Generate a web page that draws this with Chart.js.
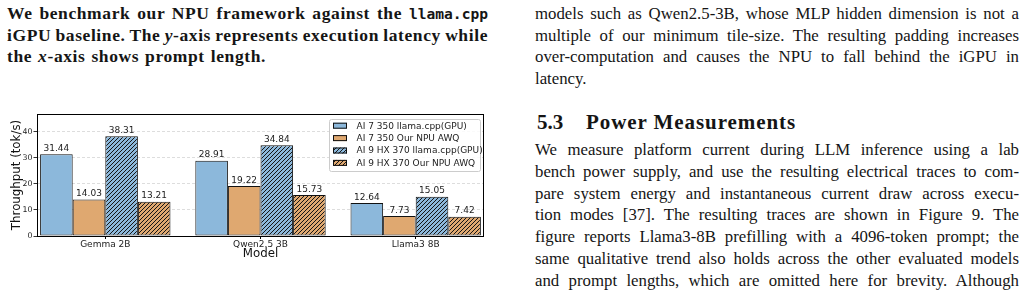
<!DOCTYPE html>
<html>
<head>
<meta charset="utf-8">
<script src="https://cdn.jsdelivr.net/npm/chart.js@4.4.0/dist/chart.umd.min.js"></script>
<style>
  html, body { margin: 0; padding: 0; background: #fff; }
  body { width: 1025px; height: 291px; position: relative; overflow: hidden; }
  .ln { position: absolute; font-family: 'Liberation Serif', serif; color: #151515; white-space: nowrap; line-height: 21.6px; height: 21.6px; }
  .cap { font-weight: bold; font-size: 17.5px; letter-spacing: 0.6px; }
  .txt { font-size: 16.8px; }
  .head { font-weight: bold; font-size: 21px; }
  .mono { font-family: 'DejaVu Sans Mono', monospace; font-weight: bold; font-size: 14.6px; letter-spacing: 0; }
  #chartBox { position: absolute; left: 0; top: 104px; width: 492px; height: 160px; }
</style>
</head>
<body>

<!-- caption (left column) -->
<div class="ln cap" style="left:7px; top:3px" data-w="481"><span>We benchmark our NPU framework against the <span class="mono">llama.cpp</span></span></div>
<div class="ln cap" style="left:7px; top:24.6px" data-w="481"><span>iGPU baseline. The <i>y</i>-axis represents execution latency while</span></div>
<div class="ln cap" style="left:7px; top:46.2px" data-w="259"><span>the <i>x</i>-axis shows prompt length.</span></div>

<!-- right column, top -->
<div class="ln txt" style="left:535px; top:3px" data-w="484"><span>models such as Qwen2.5-3B, whose MLP hidden dimension is not a</span></div>
<div class="ln txt" style="left:535px; top:24.6px" data-w="484"><span>multiple of our minimum tile-size. The resulting padding increases</span></div>
<div class="ln txt" style="left:535px; top:46.2px" data-w="484"><span>over-computation and causes the NPU to fall behind the iGPU in</span></div>
<div class="ln txt" style="left:535px; top:67.8px"><span>latency.</span></div>

<!-- section heading -->
<div class="ln head" style="left:537px; top:111.5px"><span>5.3</span></div>
<div class="ln head" style="left:586px; top:111.5px" data-w="210" data-mode="ls"><span>Power Measurements</span></div>

<!-- right column, body -->
<div class="ln txt" style="left:535px; top:139px" data-w="484"><span>We measure platform current during LLM inference using a lab</span></div>
<div class="ln txt" style="left:535px; top:160.8px" data-w="484"><span>bench power supply, and use the resulting electrical traces to com-</span></div>
<div class="ln txt" style="left:535px; top:182.6px" data-w="484"><span>pare system energy and instantaneous current draw across execu-</span></div>
<div class="ln txt" style="left:535px; top:204.4px" data-w="484"><span>tion modes [37]. The resulting traces are shown in Figure 9. The</span></div>
<div class="ln txt" style="left:535px; top:226.2px" data-w="484"><span>figure reports Llama3-8B prefilling with a 4096-token prompt; the</span></div>
<div class="ln txt" style="left:535px; top:248px" data-w="484"><span>same qualitative trend also holds across the other evaluated models</span></div>
<div class="ln txt" style="left:535px; top:269.8px" data-w="484"><span>and prompt lengths, which are omitted here for brevity. Although</span></div>

<div id="chartBox"><canvas id="throughputChart"></canvas></div>

<script>
// Datos de la figura
const models = ['Gemma 2B', 'Qwen2.5 3B', 'Llama3 8B'];
const seriesNames = ['AI 7 350 llama.cpp(GPU)', 'AI 7 350 Our NPU AWQ', 'AI 9 HX 370 llama.cpp(GPU)', 'AI 9 HX 370 Our NPU AWQ'];
const ai7Gpu = [31.44, 28.91, 12.64];
const ai7Npu = [14.03, 19.22, 7.73];
const ai9Gpu = [38.31, 34.84, 15.05];
const ai9Npu = [13.21, 15.73, 7.42];
const yTicks = [0, 10, 20, 30, 40];

// Ajuste de las lineas de texto (justificado)
function fitLines() {
    document.querySelectorAll('[data-w]').forEach((line) => {
        const target = parseFloat(line.dataset.w);
        const span = line.firstElementChild;
        const natural = span.getBoundingClientRect().width;
        if (line.dataset.mode === 'ls') {
            const n = span.textContent.length;
            span.style.letterSpacing = ((target - natural) / n) + 'px';
            return;
        }
        const spaces = (span.textContent.match(/ /g) || []).length;
        if (spaces > 0) {
            span.style.wordSpacing = ((target - natural) / spaces) + 'px';
        }
    });
}
fitLines();

// Paleta
const BLUE = '#8cb8db';
const ORANGE = '#dfa870';
const EDGE = '#111111';
const FONT = "'DejaVu Sans', sans-serif";

function hatch(color) {
    const c = document.createElement('canvas');
    c.width = 4;
    c.height = 4;
    const g = c.getContext('2d');
    g.fillStyle = color;
    g.fillRect(0, 0, 4, 4);
    g.strokeStyle = '#151515';
    g.lineWidth = 1;
    g.beginPath();
    g.moveTo(0, 4); g.lineTo(4, 0);
    g.moveTo(-1, 1); g.lineTo(1, -1);
    g.moveTo(3, 5); g.lineTo(5, 3);
    g.stroke();
    return g.createPattern(c, 'repeat');
}

const fills = [BLUE, ORANGE, hatch(BLUE), hatch(ORANGE)];
const seriesValues = [ai7Gpu, ai7Npu, ai9Gpu, ai9Npu];

const datasets = seriesValues.map((vals, s) => ({
    label: seriesNames[s],
    data: vals.map((v, i) => ({ x: i, y: v })),
    backgroundColor: fills[s],
    borderColor: EDGE,
    borderWidth: 1,
    borderSkipped: false,
    categoryPercentage: 0.84,
    barPercentage: 1.0
}));

// Etiquetas de valor, marco y leyenda
const extrasPlugin = {
    id: 'extras',
    afterDatasetsDraw(chart) {
        const ctx = chart.ctx;
        const area = chart.chartArea;

        ctx.save();
        ctx.font = '9px ' + FONT;
        ctx.fillStyle = '#222';
        ctx.textAlign = 'center';
        ctx.textBaseline = 'bottom';
        chart.data.datasets.forEach((ds, s) => {
            chart.getDatasetMeta(s).data.forEach((bar, i) => {
                ctx.fillText(seriesValues[s][i].toFixed(2), bar.x, bar.y - 1.2);
            });
        });

        // marco
        ctx.strokeStyle = '#000';
        ctx.lineWidth = 1;
        ctx.strokeRect(Math.round(area.left) + 0.5, Math.round(area.top) + 0.5,
            Math.round(area.right - area.left) - 1, Math.round(area.bottom - area.top));

        // leyenda (coordenadas del canvas)
        const lx = 329.5, ly = 15.5, lw = 151, lh = 52;
        ctx.fillStyle = 'rgba(255,255,255,0.85)';
        ctx.strokeStyle = '#cccccc';
        ctx.beginPath();
        ctx.roundRect(lx, ly, lw, lh, 2);
        ctx.fill();
        ctx.stroke();

        ctx.font = '9px ' + FONT;
        ctx.textAlign = 'left';
        ctx.textBaseline = 'middle';
        seriesNames.forEach((name, s) => {
            const cy = 21.7 + s * 12.4;
            ctx.fillStyle = fills[s];
            ctx.fillRect(333, cy - 3, 14, 6);
            ctx.strokeStyle = EDGE;
            ctx.strokeRect(333.5, cy - 2.5, 13, 5);
            ctx.fillStyle = '#222';
            ctx.fillText(name, 356.5, cy + 0.5);
        });
        ctx.restore();
    }
};

new Chart(document.getElementById('throughputChart').getContext('2d'), {
    type: 'bar',
    data: { datasets: datasets },
    options: {
        responsive: true,
        maintainAspectRatio: false,
        animation: false,
        devicePixelRatio: 1,
        layout: { padding: { top: 10, right: 8, left: 0, bottom: 0 } },
        plugins: {
            legend: { display: false },
            tooltip: { enabled: false }
        },
        scales: {
            x: {
                type: 'linear',
                offset: false,
                min: -0.44,
                max: 2.44,
                afterBuildTicks: (scale) => {
                    scale.ticks = models.map((m, i) => ({ value: i }));
                },
                afterFit: (scale) => { scale.height = 28; },
                ticks: {
                    callback: (v) => models[v],
                    font: { family: FONT, size: 9 },
                    color: '#222',
                    padding: 0,
                    maxRotation: 0,
                    autoSkip: false
                },
                grid: {
                    offset: false,
                    drawOnChartArea: false,
                    drawTicks: true,
                    tickLength: 3,
                    tickColor: '#000'
                },
                border: { display: false },
                title: {
                    display: true,
                    text: 'Model',
                    font: { family: FONT, size: 11.8 },
                    color: '#111',
                    padding: { top: 0, bottom: 3 }
                }
            },
            y: {
                min: 0,
                max: 46.9,
                afterBuildTicks: (scale) => {
                    scale.ticks = yTicks.map((v) => ({ value: v }));
                },
                afterFit: (scale) => { scale.width = 37; },
                ticks: {
                    font: { family: FONT, size: 7.8 },
                    color: '#222',
                    padding: 1
                },
                grid: {
                    color: '#d4d4d4',
                    lineWidth: 0.8,
                    tickLength: 3.5,
                    tickColor: '#000',
                    tickBorderDash: []
                },
                border: { display: false, dash: [3, 2] },
                title: {
                    display: true,
                    text: 'Throughput (tok/s)',
                    font: { family: FONT, size: 11.8 },
                    color: '#111',
                    padding: { top: 9.5, bottom: 0 }
                }
            }
        }
    },
    plugins: [extrasPlugin]
});
</script>
</body>
</html>
